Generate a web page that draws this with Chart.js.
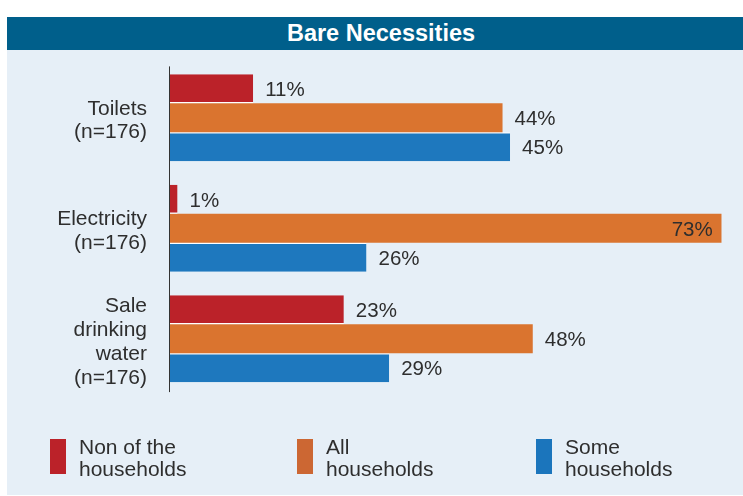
<!DOCTYPE html>
<html>
<head>
<meta charset="utf-8">
<script src="https://cdn.jsdelivr.net/npm/chart.js@4"></script>
<style>
  html, body { margin: 0; padding: 0; background: #ffffff; }
  body { width: 743px; height: 496px; position: relative; overflow: hidden;
         font-family: "Liberation Sans", Arial, sans-serif; }
  #panel { position: absolute; left: 7px; top: 50px; width: 736px; height: 445px; background: #e6eff7; }
  #title { position: absolute; left: 7px; top: 17px; width: 736px; height: 33px; background: #005f8b;
           color: #ffffff; font-weight: bold; font-size: 23.5px; line-height: 33px; text-align: center;
           box-sizing: border-box; padding-left: 12px; }
  #chart { position: absolute; left: 0; top: 0; }
  #legend { position: absolute; left: 0; top: 439px; width: 743px; height: 36px; }
  .item { position: absolute; top: 0; height: 36px; }
  .sw { position: absolute; left: 0; top: 0; width: 16px; height: 35px; }
  .lt { position: absolute; left: 29px; top: -3px; width: 115px; font-size: 21px; line-height: 21.5px; color: #2e2e2e; }
</style>
</head>
<body>
<div id="panel"></div>
<div id="title"></div>
<canvas id="chart" width="743" height="496"></canvas>
<div id="legend"></div>
<script>
const chartTitle = "Bare Necessities";
const categories = [
  ["Toilets", "(n=176)"],
  ["Electricity", "(n=176)"],
  ["Sale", "drinking", "water", "(n=176)"]
];
const seriesNames = ["Non of the households", "All households", "Some households"];
const noneValues = [11, 1, 23];
const allValues  = [44, 73, 48];
const someValues = [45, 26, 29];
const seriesColors = ["#bb2229", "#da742f", "#1e78be"];
const legendColors = ["#bb2229", "#cc6733", "#1b75bc"];

document.getElementById("title").textContent = chartTitle;

const legendOffsets = [50, 297, 536];
const legendEl = document.getElementById("legend");
seriesNames.forEach((name, i) => {
  const item = document.createElement("div");
  item.className = "item";
  item.style.left = legendOffsets[i] + "px";
  const sw = document.createElement("div");
  sw.className = "sw";
  sw.style.background = legendColors[i];
  const lt = document.createElement("div");
  lt.className = "lt";
  lt.textContent = name;
  item.appendChild(sw);
  item.appendChild(lt);
  legendEl.appendChild(item);
});

const valueLabels = {
  id: "valueLabels",
  afterDatasetsDraw(chart) {
    const ctx = chart.ctx;
    const area = chart.chartArea;
    ctx.save();
    // axis line (slightly inset from the chart area ends, as in the reference)
    const ys = chart.scales.y;
    ctx.strokeStyle = "#333333";
    ctx.lineWidth = 1;
    ctx.beginPath();
    ctx.moveTo(ys.right - 0.5, area.top + 4);
    ctx.lineTo(ys.right - 0.5, area.bottom - 2);
    ctx.stroke();

    ctx.font = "20.5px 'Liberation Sans', Arial, sans-serif";
    ctx.fillStyle = "#2e2e2e";
    ctx.textBaseline = "middle";
    chart.data.datasets.forEach((ds, di) => {
      const meta = chart.getDatasetMeta(di);
      meta.data.forEach((bar, i) => {
        const txt = ds.data[i] + "%";
        const w = ctx.measureText(txt).width;
        const cy = bar.y + 2;
        if (bar.x + 12 + w > area.right) {
          ctx.textAlign = "right";
          ctx.fillText(txt, bar.x - 9, cy);
        } else {
          ctx.textAlign = "left";
          ctx.fillText(txt, bar.x + 12, cy);
        }
      });
    });
    ctx.restore();
  }
};

const allData = noneValues.concat(allValues, someValues);

new Chart(document.getElementById("chart"), {
  type: "bar",
  data: {
    labels: categories,
    datasets: [
      { label: seriesNames[0], data: noneValues, backgroundColor: seriesColors[0],
        borderColor: "#ffffff", borderWidth: { top: 0, right: 0, bottom: 1.3, left: 0 }, borderSkipped: false },
      { label: seriesNames[1], data: allValues, backgroundColor: seriesColors[1], borderWidth: 0 },
      { label: seriesNames[2], data: someValues, backgroundColor: seriesColors[2],
        borderColor: "#ffffff", borderWidth: { top: 1.3, right: 0, bottom: 0, left: 0 }, borderSkipped: false }
    ]
  },
  options: {
    indexAxis: "y",
    responsive: false,
    animation: false,
    layout: { padding: { top: 62.4, bottom: 101.9, right: 21.3, left: 0 } },
    datasets: { bar: { categoryPercentage: 0.787, barPercentage: 1.0 } },
    scales: {
      x: {
        display: false,
        min: 0,
        max: Math.max(...allData),
        grid: { display: false }
      },
      y: {
        grid: { display: false, drawTicks: false },
        border: { display: false },
        ticks: {
          padding: 23,
          labelOffset: 3,
          color: "#2e2e2e",
          font: { family: "'Liberation Sans', Arial, sans-serif", size: 21, lineHeight: 1.14 }
        },
        afterFit(scale) {
          scale.width = 170;
          scale.paddingTop = 0;
          scale.paddingBottom = 0;
        }
      }
    },
    plugins: {
      legend: { display: false },
      title: { display: false },
      tooltip: { enabled: false }
    }
  },
  plugins: [valueLabels]
});
</script>
</body>
</html>
